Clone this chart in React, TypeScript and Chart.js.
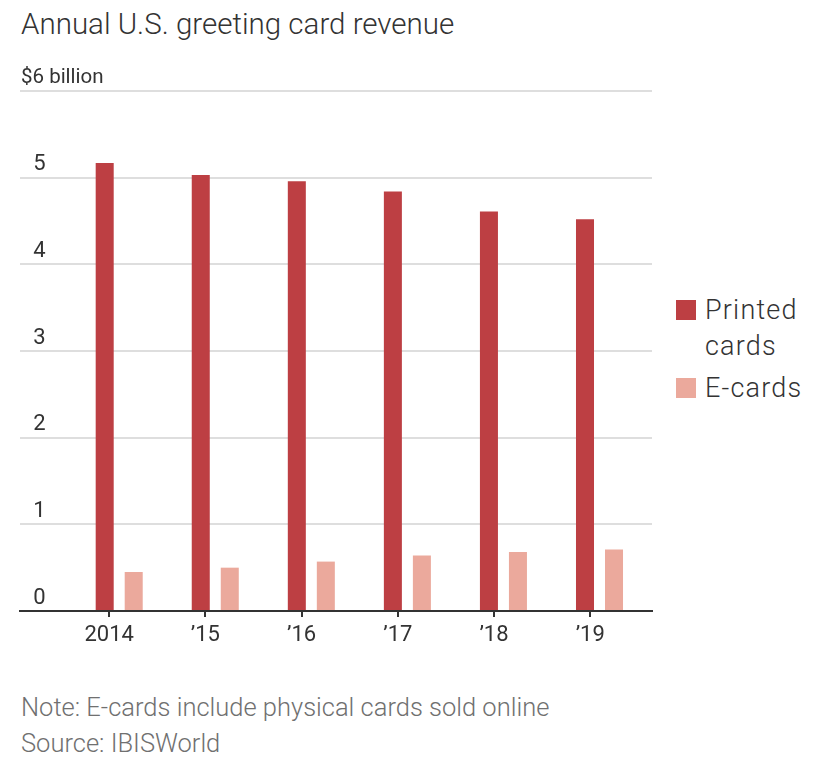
import React, { useEffect, useRef } from 'react';
import { Chart, registerables } from 'chart.js';

Chart.register(...registerables);

const years = [2014, 2015, 2016, 2017, 2018, 2019];
const yearLabels = ['2014', '\u201915', '\u201916', '\u201917', '\u201918', '\u201919'];
const printedCards = [5.17, 5.03, 4.96, 4.84, 4.61, 4.52];
const eCards = [0.45, 0.5, 0.57, 0.64, 0.68, 0.71];
const seriesNames = ['Printed cards', 'E-cards'];
const seriesColors = ['#bd3f43', '#eba99c'];
const yTicks = [0, 1, 2, 3, 4, 5, 6];
const yTickLabels = ['\u20070', '\u20071', '\u20072', '\u20073', '\u20074', '\u20075', '$6 billion'];

const titleText = 'Annual U.S. greeting card revenue';
const noteText = 'Note: E-cards include physical cards sold online';
const sourceText = 'Source: IBISWorld';

const FONT = 'Roboto, "Noto Sans", sans-serif';

export default function App() {
  const canvasRef = useRef<HTMLCanvasElement | null>(null);

  useEffect(() => {
    const canvas = canvasRef.current;
    if (!canvas) return;
    const chart = new Chart(canvas, {
      type: 'bar',
      data: {
        datasets: [
          {
            label: seriesNames[0],
            data: years.map((x, i) => ({ x, y: printedCards[i] })),
            backgroundColor: seriesColors[0],
            xAxisID: 'x',
            yAxisID: 'y',
            categoryPercentage: 0.604,
            barPercentage: 0.621,
          },
          {
            label: seriesNames[1],
            data: years.map((x, i) => ({ x, y: eCards[i] })),
            backgroundColor: seriesColors[1],
            xAxisID: 'x',
            yAxisID: 'y',
            categoryPercentage: 0.604,
            barPercentage: 0.621,
          },
        ],
      } as any,
      options: {
        animation: false,
        responsive: true,
        maintainAspectRatio: false,
        layout: { padding: { left: 20, top: 91, right: 13, bottom: 24 } },
        plugins: {
          legend: { display: false },
          tooltip: { enabled: false },
          title: { display: false },
        },
        scales: {
          x: {
            type: 'linear',
            display: false,
            offset: false,
            grid: { offset: false },
            min: 2012.9673,
            max: 2019.5465,
            afterBuildTicks: (s: any) => {
              s.ticks = years.map((v) => ({ value: v }));
            },
          },
          xt: {
            type: 'linear',
            position: 'bottom',
            offset: false,
            min: 2013.0728,
            max: 2019.6424,
            afterBuildTicks: (s: any) => {
              s.ticks = years.map((v) => ({ value: v }));
            },
            afterFit: (s: any) => {
              s.paddingLeft = 0;
              s.paddingRight = 0;
              s.height = 45;
            },
            ticks: {
              autoSkip: false,
              maxRotation: 0,
              padding: 5,
              color: '#333',
              font: { family: FONT, size: 22 },
              callback: (v: any) => {
                const i = years.indexOf(Number(v));
                return i >= 0 ? yearLabels[i] : '';
              },
            },
            grid: {
              display: true,
              offset: false,
              drawOnChartArea: false,
              drawTicks: true,
              tickLength: 6,
              color: '#333',
              lineWidth: 2,
            },
            border: { display: true, color: '#333', width: 2 },
          },
          y: {
            type: 'linear',
            position: 'left',
            min: 0,
            max: 6,
            afterBuildTicks: (s: any) => {
              s.ticks = yTicks.map((v) => ({ value: v }));
            },
            afterFit: (s: any) => {
              s.width = 0;
              s.paddingTop = 0;
              s.paddingBottom = 0;
            },
            ticks: {
              mirror: true,
              padding: 1,
              labelOffset: -13,
              color: '#333',
              font: (ctx: any) =>
                ctx.tick && ctx.tick.value === 6
                  ? { family: FONT, size: 20.5 }
                  : { family: FONT, size: 22 },
              callback: (v: any) => {
                const i = yTicks.indexOf(Number(v));
                return i >= 0 ? yTickLabels[i] : '';
              },
            },
            grid: { color: '#dedede', lineWidth: 2, drawTicks: false },
            border: { display: false },
          },
        },
      } as any,
    });
    return () => chart.destroy();
  }, []);

  return (
    <div
      style={{
        position: 'absolute',
        left: 0,
        top: 0,
        width: 828,
        height: 765,
        overflow: 'hidden',
        background: '#fff',
        fontFamily: FONT,
      }}
    >
      <div
        style={{
          position: 'absolute',
          left: 21,
          top: 9.5,
          fontSize: 29.5,
          lineHeight: 1,
          color: '#333',
          whiteSpace: 'nowrap',
          fontWeight: 300,
        }}
      >
        {titleText}
      </div>
      <div style={{ position: 'absolute', left: 0, top: 0, width: 665, height: 680 }}>
        <canvas ref={canvasRef} />
      </div>
      <div style={{ position: 'absolute', left: 676, top: 292, width: 150 }}>
        {seriesNames.map((name, i) => (
          <div
            key={name}
            style={{ display: 'flex', alignItems: 'flex-start', marginBottom: 6 }}
          >
            <div
              style={{
                width: 20,
                height: 20,
                marginTop: 8,
                background: seriesColors[i],
                flex: '0 0 auto',
              }}
            />
            <div
              style={{
                marginLeft: 9,
                fontSize: 27,
                letterSpacing: 1.2,
                lineHeight: '36px',
                color: '#333',
                width: 115,
                fontWeight: 300,
              }}
            >
              {name}
            </div>
          </div>
        ))}
      </div>
      <div
        style={{
          position: 'absolute',
          left: 21,
          top: 689,
          fontSize: 25.5,
          lineHeight: '36px',
          color: '#707070',
          whiteSpace: 'nowrap',
          fontWeight: 300,
        }}
      >
        <div>{noteText}</div>
        <div>{sourceText}</div>
      </div>
    </div>
  );
}
